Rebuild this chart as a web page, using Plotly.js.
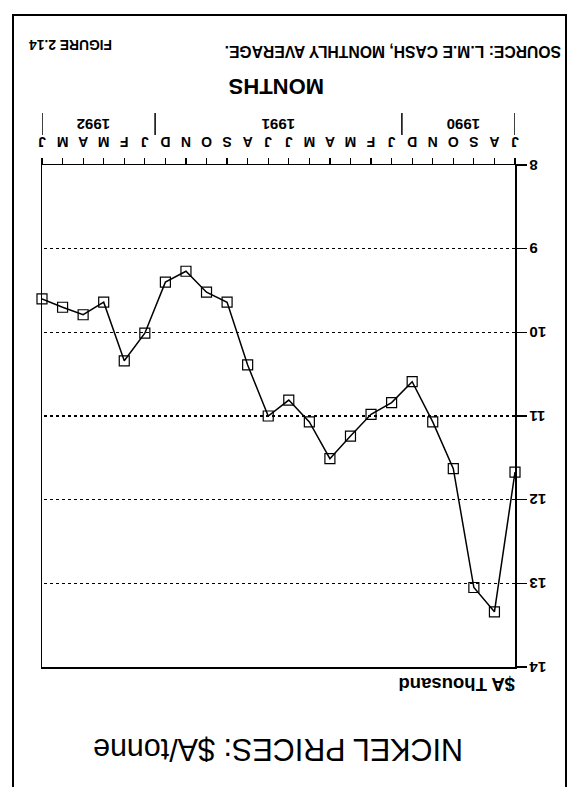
<!DOCTYPE html>
<html>
<head>
<meta charset="utf-8">
<script src="https://cdn.plot.ly/plotly-3.0.1.min.js"></script>
<style>
  html, body { margin: 0; padding: 0; background: #fff; }
  #chart { width: 574px; height: 787px; transform: rotate(180deg); transform-origin: 50% 50%; }
</style>
</head>
<body>
<div id="chart"></div>
<script>
// Months Jul 1990 .. Jun 1992
const monthLabels = ['J','A','S','O','N','D','J','F','M','A','M','J','J','A','S','O','N','D','J','F','M','A','M','J'];
const monthIndex = monthLabels.map((_, i) => i);
// Nickel price, $A thousand per tonne (L.M.E cash, monthly average)
const prices = [11.67, 13.34, 13.05, 11.63, 11.07, 10.59, 10.84, 10.98, 11.24, 11.51, 11.07, 10.81,
                11.00, 10.39, 9.64, 9.52, 9.27, 9.40, 10.01, 10.34, 9.64, 9.79, 9.70, 9.60];
const yearLabels = ['1990', '1991', '1992'];
const yearCenters = [2.5, 11.5, 20.5];
const yearBreaks = [0, 5.5, 17.5, 23];
const yTicks = [8, 9, 10, 11, 12, 13, 14];

const FONT = 'Liberation Sans, Arial, sans-serif';
const W = 574, H = 787;
const L = 59, R = 42, T = 120, B = 165;
const pw = W - L - R, ph = H - T - B;
const px = v => (v - L) / pw;
const py = v => (H - B - v) / ph;

const trace = {
  x: monthIndex,
  y: prices,
  type: 'scatter',
  mode: 'lines+markers',
  line: { color: '#000', width: 1.5 },
  marker: { symbol: 'square-open', size: 10, color: '#000', line: { width: 1.2, color: '#000' } },
  cliponaxis: false,
  hoverinfo: 'skip'
};

const annotations = [
  { text: '<b>$A Thousand</b>', xref: 'paper', yref: 'paper', x: px(57), y: py(102), xanchor: 'left', yanchor: 'middle', showarrow: false, font: { family: FONT, size: 18.5, color: '#000' } },
  { text: '<b>MONTHS</b>', xref: 'paper', yref: 'paper', x: px(297), y: py(700), xanchor: 'center', yanchor: 'middle', showarrow: false, font: { family: FONT, size: 22, color: '#000' } },
  { text: '<b>SOURCE: L.M.E CASH, MONTHLY AVERAGE.</b>', xref: 'paper', yref: 'paper', x: px(11), y: py(735), xanchor: 'left', yanchor: 'middle', showarrow: false, font: { family: FONT, size: 15.7, color: '#000' } },
  { text: '<b>FIGURE 2.14</b>', xref: 'paper', yref: 'paper', x: px(547), y: py(742), xanchor: 'right', yanchor: 'middle', showarrow: false, font: { family: FONT, size: 13.8, color: '#000' } }
];
yearLabels.forEach((t, i) => {
  annotations.push({ text: '<b>' + t + '</b>', xref: 'x', yref: 'paper', x: yearCenters[i], y: py(662), xanchor: 'center', yanchor: 'middle', showarrow: false, font: { family: FONT, size: 15, color: '#000' } });
});

const shapes = [
  { type: 'rect', xref: 'paper', yref: 'paper', x0: px(8), x1: px(561), y0: py(772), y1: py(-10), line: { color: '#000', width: 2 }, fillcolor: 'rgba(0,0,0,0)' }
];
yearBreaks.forEach(b => {
  shapes.push({ type: 'line', xref: 'x', yref: 'paper', x0: b, x1: b, y0: py(652), y1: py(674), line: { color: '#000', width: 1.5 } });
});

const layout = {
  width: W, height: H,
  margin: { l: L, r: R, t: T, b: B },
  paper_bgcolor: '#fff', plot_bgcolor: '#fff',
  showlegend: false,
  title: { text: 'NICKEL PRICES: $A/tonne', font: { family: FONT, size: 30.5, color: '#000' }, xref: 'container', yref: 'container', x: 296 / W, xanchor: 'center', y: 1 - 37 / H, yanchor: 'middle' },
  xaxis: {
    range: [0, 23], tickmode: 'array', tickvals: monthIndex, ticktext: monthLabels,
    ticks: 'outside', ticklen: 6, tickwidth: 1.2, tickcolor: '#000', ticklabelstandoff: 4,
    showline: true, linecolor: '#000', linewidth: 1.5, mirror: true,
    showgrid: false, zeroline: false,
    tickfont: { family: FONT, size: 14, color: '#000', weight: 'bold' }
  },
  yaxis: {
    range: [8, 14], tickmode: 'array', tickvals: yTicks, ticktext: yTicks.map(String),
    ticks: 'outside', ticklen: 10, tickwidth: 1.2, tickcolor: '#000',
    showline: true, linecolor: '#000', linewidth: 1.5, mirror: true,
    showgrid: true, gridcolor: '#000', gridwidth: 1.5, griddash: 'dot', zeroline: false,
    tickfont: { family: FONT, size: 15, color: '#000', weight: 'bold' }
  },
  annotations: annotations,
  shapes: shapes
};

Plotly.newPlot('chart', [trace], layout, { displayModeBar: false, staticPlot: true });
</script>
</body>
</html>
